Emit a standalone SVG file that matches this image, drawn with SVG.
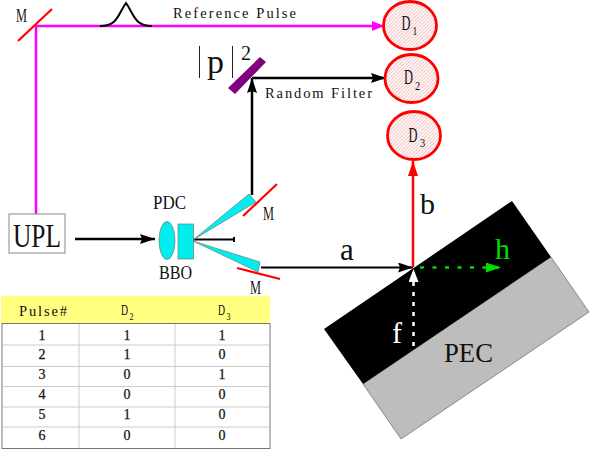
<svg xmlns="http://www.w3.org/2000/svg" width="590" height="450" viewBox="0 0 590 450">
<style>
.s{font-family:"Liberation Serif",serif;fill:#111}
.mir{stroke:#f00;stroke-width:2.2;fill:none}
.cy{fill:#00eeee;stroke:#777;stroke-width:.7}
.det{fill:url(#hatch);stroke:#f00;stroke-width:2.8}
.grid{stroke:#ccc;stroke-width:1}
.c{text-anchor:middle;font-size:14px;stroke:#111;stroke-width:.25}
</style>
<defs>
<pattern id="hatch" width="2.500" height="2.500" patternUnits="userSpaceOnUse" patternTransform="rotate(-45)">
<rect width="2.500" height="2.500" fill="#fff"/><rect width="2.500" height="1.100" fill="#f3c4c4"/>
</pattern>
<marker id="ak" markerUnits="userSpaceOnUse" markerWidth="15" markerHeight="10" refX="15" refY="5" orient="auto"><path d="M0 0L15 5L0 10L2 5Z" fill="#000"/></marker>
<marker id="am" markerUnits="userSpaceOnUse" markerWidth="12" markerHeight="10" refX="12" refY="5" orient="auto"><path d="M0 0L12 5L0 10Z" fill="#f0f"/></marker>
<marker id="ar" markerUnits="userSpaceOnUse" markerWidth="15" markerHeight="10" refX="15" refY="5" orient="auto"><path d="M0 0L15 5L0 10Z" fill="#f00"/></marker>
<marker id="ag" markerUnits="userSpaceOnUse" markerWidth="15" markerHeight="10" refX="15" refY="5" orient="auto"><path d="M0 0L15 5L0 10Z" fill="#0d0"/></marker>
<marker id="aw" markerUnits="userSpaceOnUse" markerWidth="13" markerHeight="10" refX="13" refY="5" orient="auto"><path d="M0 0L13 5L0 10Z" fill="#fff"/></marker>
</defs>

<g id="pec">
<polygon points="551,257 589,312 401,439 363,384" fill="#bdbdbd" stroke="#666" stroke-width=".7"/>
<polygon points="512,201 551,257 363,384 324,329" fill="#000"/>
<text class="s" x="444" y="362" font-size="27" textLength="49" lengthAdjust="spacingAndGlyphs">PEC</text>
</g>

<g id="connectors" fill="none">
<path d="M36 214V26H384" stroke="#f0f" stroke-width="2.500" marker-end="url(#am)"/>
<path d="M252 195V78" stroke="#000" stroke-width="2.500" marker-end="url(#ak)"/>
<path d="M252 78H386" stroke="#000" stroke-width="2.500" marker-end="url(#ak)"/>
<path d="M75 239H155" stroke="#000" stroke-width="2.500" marker-end="url(#ak)"/>
<path d="M193 239.500H234M234 237V242" stroke="#000" stroke-width="2"/>
<path d="M261 267.500H413" stroke="#000" stroke-width="2" marker-end="url(#ak)"/>
<path d="M413 267V161" stroke="#f00" stroke-width="2.500" marker-end="url(#ar)"/>
<path d="M420 267.500H501" stroke="#0d0" stroke-width="2.500" stroke-dasharray="4 8.500" marker-end="url(#ag)"/>
<path d="M413.500 346V269" stroke="#fff" stroke-width="2.500" stroke-dasharray="4 6" marker-end="url(#aw)"/>
<path d="M100 26C118 26 118 14 126 3C134 14 134 26 152 26" stroke="#000" stroke-width="2"/>
</g>

<g id="mirror-top-left">
<line class="mir" x1="18" y1="41" x2="52" y2="9"/>
<text class="s" x="16" y="22" font-size="18" textLength="11" lengthAdjust="spacingAndGlyphs">M</text>
</g>
<g id="reference-pulse"><text class="s" x="173" y="18" font-size="14.500" textLength="123" lengthAdjust="spacing">Reference Pulse</text></g>
<g id="random-filter">
<polygon points="228,88 235,94 266,62 260,57" fill="#800080"/>
<text class="s" x="265" y="98" font-size="14.500" textLength="107" lengthAdjust="spacing">Random Filter</text>
<path d="M199.500 46V78M232.500 46V78" stroke="#222" stroke-width="1"/>
<text class="s" x="207" y="73" font-size="34">p</text>
<text class="s" x="241" y="60" font-size="20">2</text>
</g>

<g id="d1"><ellipse class="det" cx="410" cy="25.500" rx="26.500" ry="24"/>
<text class="s" transform="translate(401.500 30) scale(.62 1)" font-size="20">D</text>
<text class="s" transform="translate(412.500 35) scale(.75 1)" font-size="13">1</text></g>
<g id="d2"><ellipse class="det" cx="411.500" cy="78.500" rx="26.500" ry="24"/>
<text class="s" transform="translate(404 84) scale(.62 1)" font-size="20">D</text>
<text class="s" transform="translate(415 90) scale(.8 1)" font-size="13">2</text></g>
<g id="d3"><ellipse class="det" cx="414" cy="135.500" rx="26.500" ry="24"/>
<text class="s" transform="translate(408.500 142) scale(.62 1)" font-size="20">D</text>
<text class="s" transform="translate(420 147) scale(.8 1)" font-size="13">3</text></g>

<g id="upl"><rect x="9" y="214" width="56" height="39" fill="#fff" stroke="#888"/>
<text class="s" x="13" y="247" font-size="33" textLength="48" lengthAdjust="spacingAndGlyphs">UPL</text></g>
<g id="pdc-bbo">
<ellipse class="cy" cx="167" cy="240.500" rx="8" ry="19"/>
<rect class="cy" x="178" y="224" width="15.500" height="35"/>
<text class="s" x="153" y="209" font-size="18" textLength="33" lengthAdjust="spacingAndGlyphs">PDC</text>
<text class="s" x="159" y="279" font-size="18" textLength="33" lengthAdjust="spacingAndGlyphs">BBO</text>
</g>
<g id="mirror-upper">
<polygon class="cy" points="193,240 249,194 256,202"/>
<line class="mir" x1="243" y1="216" x2="277" y2="184"/>
<text class="s" x="263" y="220" font-size="18" textLength="11" lengthAdjust="spacingAndGlyphs">M</text>
</g>
<g id="mirror-lower">
<polygon class="cy" points="193,241 260,262 258,272"/>
<line class="mir" x1="237" y1="268" x2="280" y2="279"/>
<text class="s" x="250" y="294" font-size="18" textLength="11" lengthAdjust="spacingAndGlyphs">M</text>
</g>

<g id="labels">
<text class="s" x="340" y="260" font-size="31">a</text>
<text class="s" x="420" y="214" font-size="30">b</text>
<text class="s" x="392" y="343" font-size="30" style="fill:#fff">f</text>
<text class="s" x="495" y="259" font-size="30" style="fill:#0d0">h</text>
</g>

<g id="table">
<rect x="1" y="296" width="269" height="28" fill="#ffff80"/>
<rect x="2" y="323.500" width="268" height="125" fill="#fff" stroke="#777"/>
<path class="grid" d="M2 345H270M2 366.500H270M2 386.500H270M2 407H270M2 427H270M79 324V448M175 324V448"/>
<text class="s" x="19" y="316" font-size="14.500" textLength="48" lengthAdjust="spacing">Pulse#</text>
<text class="s" transform="translate(121 315) scale(.65 1)" font-size="15">D</text>
<text class="s" transform="translate(129.500 320) scale(.8 1)" font-size="10">2</text>
<text class="s" transform="translate(218 315) scale(.65 1)" font-size="15">D</text>
<text class="s" transform="translate(226.500 320) scale(.8 1)" font-size="10">3</text>
<g>
<text class="c s" x="42" y="340">1</text><text class="c s" x="127" y="340">1</text><text class="c s" x="222" y="340">1</text>
<text class="c s" x="42" y="359">2</text><text class="c s" x="127" y="359">1</text><text class="c s" x="222" y="359">0</text>
<text class="c s" x="42" y="379">3</text><text class="c s" x="127" y="379">0</text><text class="c s" x="222" y="379">1</text>
<text class="c s" x="42" y="399">4</text><text class="c s" x="127" y="399">0</text><text class="c s" x="222" y="399">0</text>
<text class="c s" x="42" y="419">5</text><text class="c s" x="127" y="419">1</text><text class="c s" x="222" y="419">0</text>
<text class="c s" x="42" y="440">6</text><text class="c s" x="127" y="440">0</text><text class="c s" x="222" y="440">0</text>
</g>
</g>
</svg>
